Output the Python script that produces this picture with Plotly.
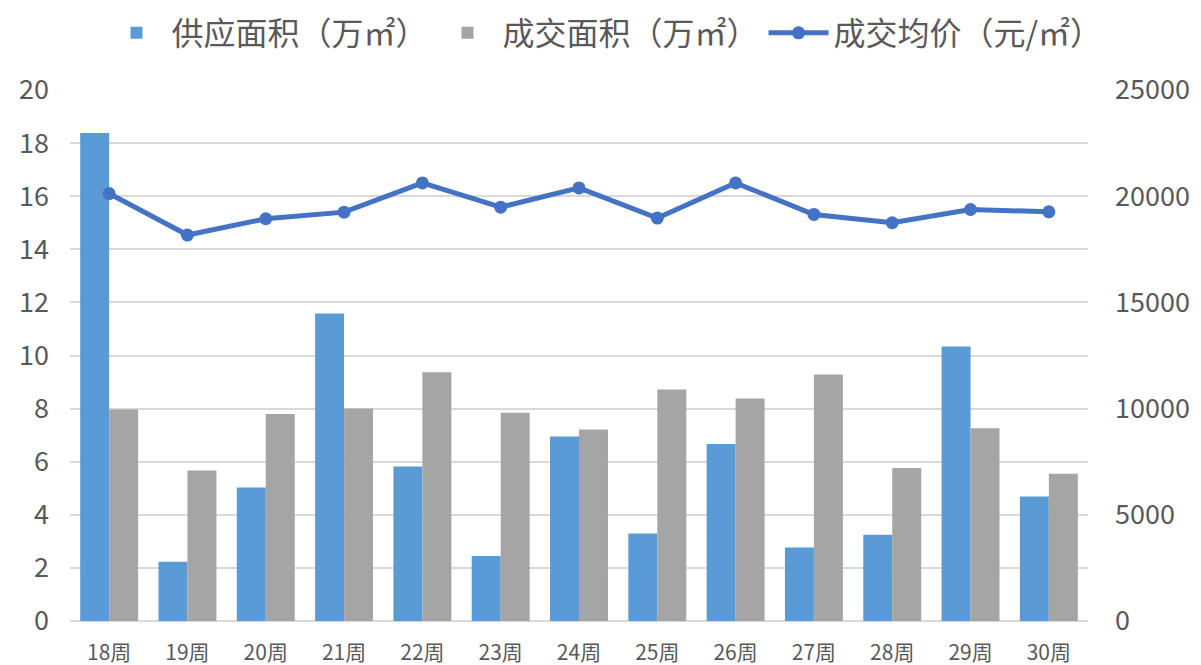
import plotly.graph_objects as go

weeks = ["18周", "19周", "20周", "21周", "22周", "23周", "24周",
         "25周", "26周", "27周", "28周", "29周", "30周"]
supply_area = [18.38, 2.23, 5.03, 11.58, 5.82, 2.45, 6.95, 3.30, 6.67, 2.77, 3.25, 10.34, 4.69]
deal_area = [7.97, 5.67, 7.80, 8.00, 9.37, 7.84, 7.21, 8.72, 8.38, 9.28, 5.76, 7.26, 5.55]
avg_price = [20125, 18172, 18938, 19250, 20625, 19484, 20391, 18969, 20625, 19141, 18750, 19375, 19266]

left_ticks = list(range(0, 21, 2))
right_ticks = list(range(0, 25001, 5000))
right_labels = [str(v) for v in right_ticks]

FONT = "Noto Sans CJK SC, Microsoft YaHei, sans-serif"
TXT = "#595959"
W, H = 1193, 657

fig = go.Figure()
fig.add_trace(go.Bar(x=weeks, y=supply_area, name="供应面积（万㎡）",
                     marker=dict(color="#5B9BD5", line=dict(width=0))))
fig.add_trace(go.Bar(x=weeks, y=deal_area, name="成交面积（万㎡）",
                     marker=dict(color="#A5A5A5", line=dict(width=0))))
fig.add_trace(go.Scatter(x=weeks, y=avg_price, name="成交均价（元/㎡）", yaxis="y2",
                         mode="lines+markers",
                         line=dict(color="#4472C4", width=5),
                         marker=dict(color="#4472C4", size=13)))

fig.update_layout(
    width=W, height=H,
    paper_bgcolor="white", plot_bgcolor="white",
    margin=dict(l=62, r=113, t=82, b=44),
    font=dict(family=FONT, color=TXT, size=24),
    barmode="group", bargap=0.26, bargroupgap=0,
    legend=dict(orientation="h", x=0.5, xanchor="center", xref="container",
                y=1 - 25 / H, yanchor="middle", yref="container",
                font=dict(size=32, color=TXT, family=FONT), itemwidth=60,
                traceorder="normal", bgcolor="rgba(0,0,0,0)"),
    xaxis=dict(range=[-0.5, len(weeks) - 0.5], showgrid=False, showline=False,
               ticks="", automargin=False,
               tickfont=dict(size=21, color=TXT), ticklabelstandoff=17),
    yaxis=dict(range=[0, 20], tickvals=left_ticks, showgrid=True, gridcolor="#D9D9D9",
               gridwidth=2, zeroline=True, zerolinecolor="#D9D9D9", zerolinewidth=2,
               showline=False, ticks="", tickfont=dict(size=27, color=TXT),
               ticklabelstandoff=20, automargin=False),
    yaxis2=dict(range=[0, 25000], tickvals=right_ticks, ticktext=right_labels,
                overlaying="y", side="right",
                showgrid=False, zeroline=False, showline=False, ticks="",
                tickfont=dict(size=27, color=TXT), ticklabelstandoff=26, automargin=False),
)

fig.write_html("out.html")
